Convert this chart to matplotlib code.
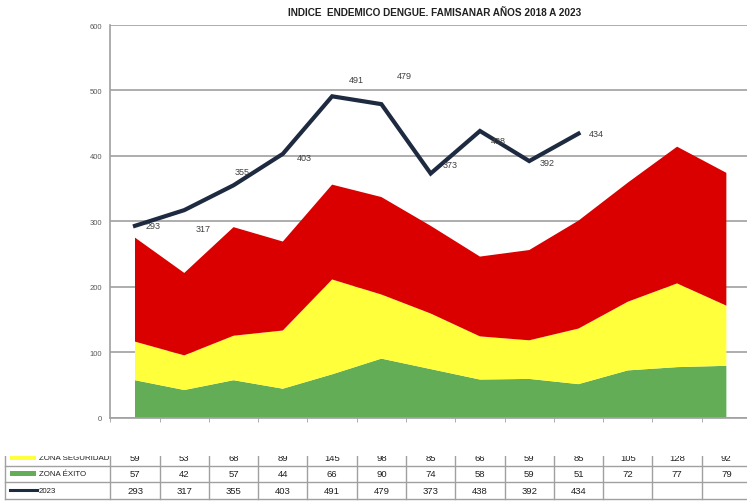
import matplotlib
matplotlib.use('Agg')
import matplotlib.pyplot as plt
from matplotlib.patches import Rectangle
import numpy as np

plt.rcParams['font.family'] = ['Liberation Sans Narrow', 'Liberation Sans', 'DejaVu Sans']

# data
zona_exito = [57, 42, 57, 44, 66, 90, 74, 58, 59, 51, 72, 77, 79]
zona_seguridad = [59, 53, 68, 89, 145, 98, 85, 66, 59, 85, 105, 128, 92]
zona_alerta = [159, 126, 166, 136, 145, 149, 134, 122, 138, 165, 182, 209, 203]
serie_2023 = [293, 317, 355, 403, 491, 479, 373, 438, 392, 434]

c_red = '#da0000'
c_yellow = '#ffff3b'
c_green = '#63ad56'
c_line = '#1e2a40'
c_grid = '#a0a0a0'

W, H = 747, 502
fig = plt.figure(figsize=(W / 100, H / 100), dpi=100)

# main plot, placed in pixel units
left, right, bottom, top = 110.35, 751, 418.5, 26
ax = fig.add_axes([left / W, 1 - bottom / H, (right - left) / W, (bottom - top) / H])

x = np.arange(len(zona_exito))
ax.stackplot(x, zona_exito, zona_seguridad, zona_alerta,
             colors=[c_green, c_yellow, c_red], linewidth=0, zorder=2)
x23 = np.arange(len(serie_2023))
ax.plot(x23, serie_2023, color=c_line, lw=3, solid_joinstyle='miter', zorder=3)

# data labels (hand placed like the original)
label_off = [(18, 0), (19, 18), (9, -14), (21, 4), (24, -17),
             (23, -29), (19, -9), (18, 10), (18, 1), (18, 0)]
for xi, yi, (dx, dy) in zip(x23, serie_2023, label_off):
    ax.annotate(str(yi), (xi, yi), xytext=(dx * 0.72, -dy * 0.72),
                textcoords='offset points', ha='center', va='center',
                fontsize=6.5, color='#404040', zorder=4)

ax.set_xlim(-0.5, len(x) - 0.5)
ax.set_ylim(0, 600)
ax.set_yticks(range(0, 601, 100))
ax.yaxis.grid(True, color=c_grid, lw=1.2, zorder=0)
ax.set_axisbelow(True)
ax.tick_params(axis='y', length=0, pad=6, labelsize=5.5, labelcolor='#595959')
ax.set_xticks([])
ax.set_xticks(np.arange(-0.5, len(x)), minor=True)
ax.tick_params(axis='x', which='minor', length=3, color=c_grid, labelbottom=False)
for s in ['top', 'right']:
    ax.spines[s].set_visible(False)
for s in ['left', 'bottom']:
    ax.spines[s].set_color(c_grid)
    ax.spines[s].set_linewidth(1.2)

fig.text(435 / W, 1 - 13 / H, 'INDICE  ENDEMICO DENGUE. FAMISANAR AÑOS 2018 A 2023',
         ha='center', va='center', fontsize=7.2, fontweight='bold', color='#202020')

# data table under the chart (top row is cut off as in the original)
tab_top = 456.7
tab = fig.add_axes([0, 0, right / W, 1 - tab_top / H])
tab.set_xlim(0, right)
tab.set_ylim(H, tab_top)
tab.axis('off')

col_w = (right - left) / len(x)
centers = left + (x + 0.5) * col_w
row_edges = [450, 466.5, 483, 499.5]
row_mid = [(a + b) / 2 for a, b in zip(row_edges[:-1], row_edges[1:])]
line_kw = dict(color='#a0a0a0', lw=1, clip_on=True)

for ye in row_edges:
    tab.plot([5, right], [ye, ye], **line_kw)
for xe in [5, left] + list(left + np.arange(1, len(x) + 1) * col_w):
    tab.plot([xe, xe], [row_edges[0], row_edges[-1]], **line_kw)

rows = [
    ('ZONA SEGURIDAD', zona_seguridad),
    ('ZONA ÉXITO', zona_exito),
    ('2023', serie_2023),
]
for (name, vals), ym in zip(rows, row_mid):
    tab.text(39, ym, name, ha='left', va='center', fontsize=5.7, color='#202020', clip_on=True)
    for cx, v in zip(centers, vals):
        tab.text(cx, ym, str(v), ha='center', va='center', fontsize=6.8,
                 color='#202020', clip_on=True)

# legend keys
tab.add_patch(Rectangle((10, row_mid[0] - 2.5), 26, 5, color=c_yellow, lw=0, clip_on=True))
tab.add_patch(Rectangle((10, row_mid[1] - 2.5), 26, 5, color=c_green, lw=0, clip_on=True))
tab.plot([10, 37], [row_mid[2], row_mid[2]], color=c_line, lw=2.2, clip_on=True)

fig.savefig('out.png', dpi=100, facecolor='white')
